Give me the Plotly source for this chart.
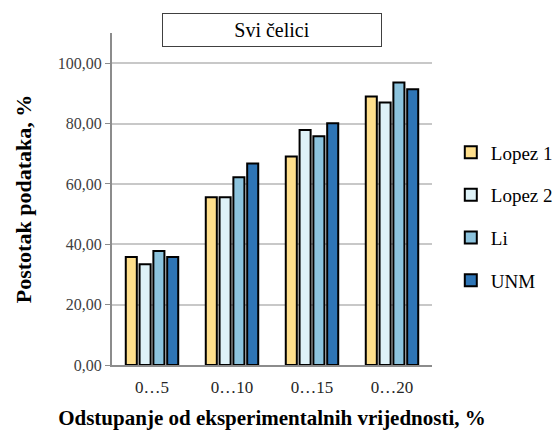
import plotly.graph_objects as go

categories = ["0…5", "0…10", "0…15", "0…20"]
series_names = ["Lopez 1", "Lopez 2", "Li", "UNM"]
lopez1 = [35.8, 55.6, 69.1, 89.0]
lopez2 = [33.4, 55.6, 77.9, 87.0]
li = [37.8, 62.2, 75.8, 93.6]
unm = [35.8, 66.8, 80.1, 91.4]
colors = ["#FFDF8C", "#DEF2F8", "#8CC3DD", "#2E75B6"]
y_ticks = [0, 20, 40, 60, 80, 100]

FONT = "Liberation Serif"

fig = go.Figure()
for name, vals, col in zip(series_names, [lopez1, lopez2, li, unm], colors):
    fig.add_trace(go.Bar(
        x=categories, y=vals, name=name, legendgroup=name,
        marker=dict(color=col, line=dict(color="#000000", width=2)),
    ))

fig.update_layout(
    width=560, height=430,
    margin=dict(l=112, r=128, t=33, b=65),
    paper_bgcolor="white", plot_bgcolor="white",
    barmode="group", bargap=0.31, bargroupgap=0.2,
    separators=",.",
    font=dict(family=FONT, color="#000000"),
    legend=dict(
        xref="container", yref="container",
        x=0.805, y=0.69, xanchor="left", yanchor="top",
        font=dict(family=FONT, size=19, color="#000000"),
        traceorder="grouped", tracegroupgap=15, itemwidth=30,
    ),
    annotations=[dict(
        text="Svi čelici", xref="paper", yref="paper",
        x=0.5, y=1.01, xanchor="center", yanchor="middle",
        showarrow=False, font=dict(family=FONT, size=20, color="#000000"),
        bordercolor="#404040", borderwidth=1, bgcolor="white",
        width=216, height=30,
    )],
)
fig.update_xaxes(
    automargin=False,
    showline=True, linecolor="#8C8C8C", linewidth=2,
    ticks="", ticklabelstandoff=6,
    tickfont=dict(family=FONT, size=17, color="#262626"),
    title=dict(text="<b>Odstupanje od eksperimentalnih vrijednosti, %</b>",
               font=dict(family=FONT, size=21, color="#000000"), standoff=18),
)
fig.update_yaxes(
    automargin=False,
    range=[0, 110], tickvals=y_ticks, tickformat=".2f",
    showline=True, linecolor="#8C8C8C", linewidth=2,
    ticks="outside", ticklen=5, tickcolor="#8C8C8C",
    showgrid=True, gridcolor="#C8C8C8", gridwidth=2,
    zeroline=False,
    tickfont=dict(family=FONT, size=16, color="#404040"),
    title=dict(text="<b>Postotak podataka, %</b>",
               font=dict(family=FONT, size=22, color="#000000"), standoff=20),
)

fig.write_html("out.html", config={"displayModeBar": False},
               post_script="document.body.style.margin='0';")
